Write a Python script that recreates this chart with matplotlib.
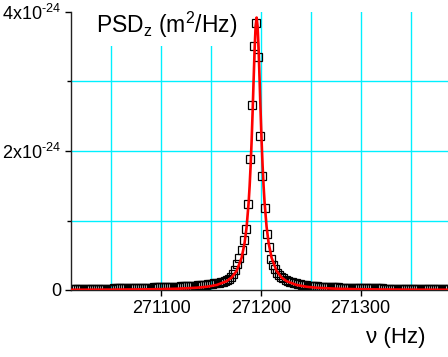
import numpy as np
import matplotlib
matplotlib.use("Agg")
import matplotlib.pyplot as plt

plt.rcParams['font.family'] = ['Liberation Sans', 'DejaVu Sans']
plt.rcParams['mathtext.default'] = 'regular'

# measured PSD, frequency bins (Hz) and values in units of 1e-24 m^2/Hz
f_start = 271010.4
f_step = 2.1
psd_left = [0.015, 0.015, 0.016, 0.015, 0.016, 0.016, 0.017, 0.016, 0.017, 0.017, 0.018, 0.017, 0.018, 0.018, 0.019,
            0.019, 0.020, 0.020, 0.021, 0.021, 0.022, 0.022, 0.023, 0.023, 0.024, 0.025, 0.025, 0.026, 0.027, 0.027,
            0.028, 0.029, 0.030, 0.030, 0.031, 0.032, 0.033, 0.034, 0.035, 0.036, 0.037, 0.038, 0.039, 0.040, 0.041,
            0.042, 0.043, 0.044, 0.046, 0.047, 0.048, 0.050, 0.051, 0.053, 0.054, 0.056, 0.058, 0.060, 0.062, 0.064,
            0.066, 0.069, 0.072, 0.075, 0.078, 0.082, 0.086, 0.091, 0.096, 0.101, 0.107, 0.114, 0.122, 0.132, 0.145]
psd_peak = [0.165, 0.19, 0.225, 0.29, 0.37, 0.46, 0.58, 0.72, 0.88, 1.24, 1.885, 2.66, 3.51,
            3.846,
            3.35, 2.22, 1.64, 1.18, 0.80, 0.62, 0.45, 0.36, 0.30, 0.25, 0.22, 0.19]
psd_right = [0.17, 0.15, 0.135, 0.122, 0.111, 0.102, 0.094, 0.088, 0.082, 0.077, 0.072, 0.068, 0.064, 0.061, 0.058,
             0.055, 0.053, 0.050, 0.048, 0.046, 0.044, 0.043, 0.041, 0.040, 0.038, 0.037, 0.036, 0.035, 0.034, 0.033,
             0.032, 0.031, 0.030, 0.030, 0.029, 0.028, 0.028, 0.027, 0.026, 0.026, 0.025, 0.025, 0.024, 0.024, 0.023,
             0.023, 0.022, 0.022, 0.021, 0.021, 0.021, 0.020, 0.020, 0.019, 0.019, 0.019, 0.018, 0.018, 0.018, 0.017,
             0.017, 0.017, 0.017, 0.016, 0.016, 0.016, 0.016, 0.015, 0.015, 0.015, 0.015, 0.015, 0.014, 0.014, 0.014,
             0.014, 0.014, 0.014, 0.013, 0.013]
psd = np.array(psd_left + psd_peak + psd_right) * 1e-24
freq = f_start + f_step * np.arange(len(psd))

# red fit curve, offsets from centre (Hz) and values (1e-24 m^2/Hz)
fit_center = 271195.6
fit_offset = [-187, -150, -120, -100, -80, -60, -50, -40, -30, -25, -20, -15, -12, -10, -8, -7, -6, -5, -4, -3, -2, -1,
              0, 1, 2, 3, 4, 5, 6, 7, 8, 10, 12, 15, 20, 25, 30, 40, 50, 60, 80, 100, 120, 150, 193]
fit_val = [0.0034, 0.0053, 0.0082, 0.0118, 0.0184, 0.0327, 0.0469, 0.0727, 0.127, 0.181, 0.276, 0.465, 0.681, 0.910,
           1.258, 1.496, 1.790, 2.146, 2.564, 3.021, 3.462, 3.794,
           3.92, 3.794, 3.462, 3.021, 2.564, 2.146, 1.790, 1.496, 1.258, 0.910, 0.681, 0.465, 0.276, 0.181, 0.127,
           0.0727, 0.0469, 0.0327, 0.0184, 0.0118, 0.0082, 0.0053, 0.0032]
fit_f = fit_center + np.array(fit_offset)
fit_y = np.array(fit_val) * 1e-24

fig = plt.figure(figsize=(4.48, 3.57), dpi=100)
ax = fig.add_axes([71/448, 67/357, 377/448, 278/357])

grid_col = '#00f0ff'
for xv in np.arange(271050, 271400, 50):
    ax.axvline(xv, color=grid_col, lw=1.0, zorder=0)
for yv in [1e-24, 2e-24, 3e-24]:
    ax.axhline(yv, color=grid_col, lw=1.0, zorder=0)

ax.plot(freq, psd, ls='none', marker='s', ms=6.0, mfc='none', mec='black', mew=0.9, zorder=2)
ax.plot(fit_f, fit_y, color='red', lw=1.9, zorder=3)

ax.set_xlim(271009.4, 271387.6)
ax.set_ylim(0, 4e-24)
ax.set_xticks([271100, 271200, 271300])
ax.set_xticklabels(['271100', '271200', '271300'])
ax.set_yticks([0, 2e-24, 4e-24])
ax.set_yticklabels(['0', '2x10$^{\u201024}$', '4x10$^{\u201024}$'])
ax.set_yticks([1e-24, 3e-24], minor=True)
ax.tick_params(axis='both', which='major', labelsize=13, length=4, width=1, direction='out', pad=3)
ax.tick_params(axis='y', which='minor', length=3, width=1, direction='out')

for s in ['top', 'right']:
    ax.spines[s].set_visible(False)
for s in ['left', 'bottom']:
    ax.spines[s].set_color('#222222')
    ax.spines[s].set_linewidth(1.0)

fig.text(96/448, (357-25)/357, 'PSD$_z$ (m$^2$/Hz)', fontsize=16.5, ha='left', va='center',
         bbox=dict(facecolor='white', edgecolor='none', pad=4), zorder=5)
fig.text(425/448, (357-337)/357, 'ν (Hz)', fontsize=16, ha='right', va='center')

fig.savefig('out.png', dpi=100)
